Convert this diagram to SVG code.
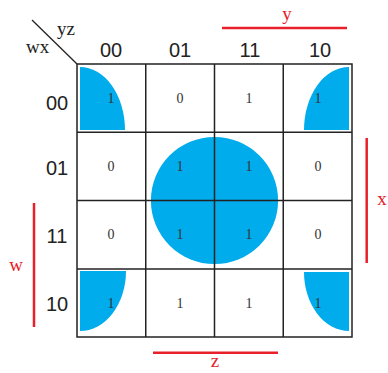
<svg xmlns="http://www.w3.org/2000/svg" width="388" height="373" viewBox="0 0 388 373">
<style>
.fill{fill:#00acec;}
.grid{stroke:#222;stroke-width:1.5;fill:none;}
.v{font-family:"Liberation Serif","DejaVu Serif",serif;font-size:14px;fill:#333;text-anchor:middle;}
.h{font-family:"Liberation Sans",Arial,sans-serif;font-size:20px;fill:#222;text-anchor:middle;}
.lab{font-family:"Liberation Serif","DejaVu Serif",serif;font-size:19px;fill:#222;}
.red{stroke:#e8202a;stroke-width:2.5;}
.rt{font-family:"Liberation Serif","DejaVu Serif",serif;font-size:19px;fill:#e8202a;text-anchor:middle;}
</style>
<rect width="388" height="373" fill="#fff"/>
<g id="groups">
<path class="fill" d="M80,130 L80,67 A45,63 0 0 1 125,130 Z"/>
<path class="fill" d="M349,130 L349,67 A45,63 0 0 0 304,130 Z"/>
<path class="fill" d="M80,271 L126,271 A46,60 0 0 1 80,331 Z"/>
<path class="fill" d="M349,272 L304,272 A45,59 0 0 0 349,331 Z"/>
<circle class="fill" cx="214.5" cy="200.5" r="63.6"/>
</g>
<g id="grid">
<rect class="grid" x="77" y="64" width="275" height="273"/>
<line class="grid" x1="145.75" y1="64" x2="145.75" y2="337"/>
<line class="grid" x1="214.5" y1="64" x2="214.5" y2="337"/>
<line class="grid" x1="283.25" y1="64" x2="283.25" y2="337"/>
<line class="grid" x1="77" y1="132.3" x2="352" y2="132.3"/>
<line class="grid" x1="77" y1="200.6" x2="352" y2="200.6"/>
<line class="grid" x1="77" y1="269" x2="352" y2="269"/>
<line x1="32" y1="20" x2="77" y2="64" stroke="#222" stroke-width="1.3"/>
</g>
<g id="values">
<text class="v" x="111" y="103">1</text>
<text class="v" x="180" y="103">0</text>
<text class="v" x="249" y="103">1</text>
<text class="v" x="318" y="103">1</text>
<text class="v" x="111" y="171">0</text>
<text class="v" x="180" y="171">1</text>
<text class="v" x="249" y="171">1</text>
<text class="v" x="318" y="171">0</text>
<text class="v" x="111" y="239">0</text>
<text class="v" x="180" y="239">1</text>
<text class="v" x="249" y="239">1</text>
<text class="v" x="318" y="239">0</text>
<text class="v" x="111" y="308">1</text>
<text class="v" x="180" y="308">1</text>
<text class="v" x="249" y="308">1</text>
<text class="v" x="318" y="308">1</text>
</g>
<g id="headers">
<text class="h" x="111" y="57">00</text>
<text class="h" x="180" y="57">01</text>
<text class="h" x="250" y="57">11</text>
<text class="h" x="320" y="57">10</text>
<text class="h" x="57" y="110">00</text>
<text class="h" x="57" y="175">01</text>
<text class="h" x="57" y="243">11</text>
<text class="h" x="57" y="311">10</text>
<text class="lab" x="26" y="53">wx</text>
<text class="lab" x="57" y="35">yz</text>
</g>
<g id="vars">
<line class="red" x1="222" y1="28" x2="347" y2="28"/>
<text class="rt" x="287" y="20">y</text>
<line class="red" x1="366.7" y1="138" x2="366.7" y2="263"/>
<text class="rt" x="382" y="205">x</text>
<line class="red" x1="34" y1="203" x2="34" y2="327"/>
<text class="rt" x="16" y="271">w</text>
<line class="red" x1="153" y1="352.7" x2="278" y2="352.7"/>
<text class="rt" x="215" y="367">z</text>
</g>
</svg>
